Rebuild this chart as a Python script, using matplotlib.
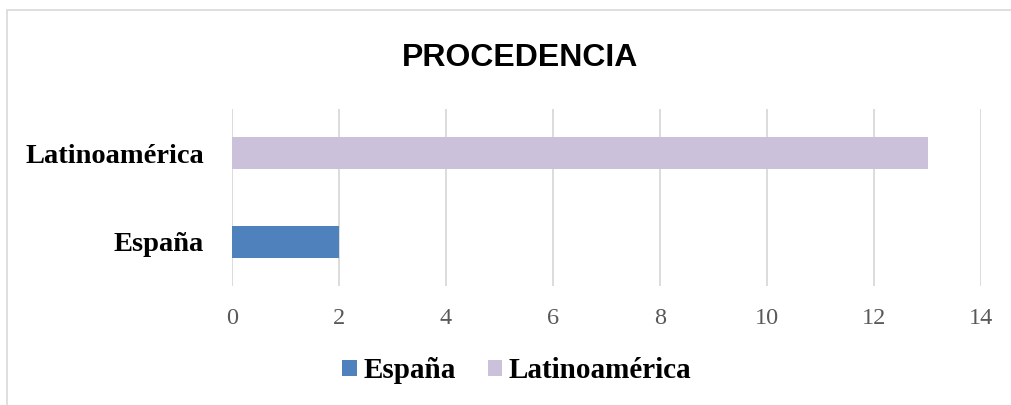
import matplotlib
matplotlib.use("Agg")
import matplotlib.pyplot as plt
from matplotlib.patches import Rectangle, Patch

categories = ["España", "Latinoamérica"]
values = [2, 13]
colors = ["#4F81BD", "#CCC1DA"]
xticks = [0, 2, 4, 6, 8, 10, 12, 14]

SERIF = ["Liberation Serif", "DejaVu Serif"]
SANS = ["Liberation Sans", "DejaVu Sans"]

fig = plt.figure(figsize=(10.11, 4.05), dpi=100)
ax = fig.add_axes([0.2295, 0.2938, 0.7409, 0.4371])

ax.barh(range(len(categories)), values, height=0.36, color=colors, zorder=3)

ax.set_xlim(0, 14)
ax.set_ylim(-0.5, 1.5)
ax.set_xticks(xticks)
ax.set_xticklabels([str(t) for t in xticks], family=SERIF, fontsize=17.5, color="#595959")
ax.set_yticks(range(len(categories)))
ax.set_yticklabels(categories, family=SERIF, fontsize=20.5, fontweight="bold", color="black")
ax.tick_params(axis="x", length=0, pad=16)
ax.tick_params(axis="y", length=0, pad=20)
ax.grid(axis="x", color="#D9D9D9", linewidth=1.3, zorder=0)
for s in ax.spines.values():
    s.set_visible(False)

fig.text(0.5145, 0.857, "PROCEDENCIA", ha="center", va="center",
         family=SANS, fontsize=23, fontweight="bold")

handles = [Patch(facecolor=c, edgecolor="none") for c in colors]
fig.legend(handles, categories, loc="center", bbox_to_anchor=(0.511, 0.084), ncol=2,
           frameon=False, prop={"family": SERIF, "size": 21, "weight": "bold"},
           handlelength=0.5, handleheight=0.5, handletextpad=0.22, columnspacing=1.1)

fig.patches.append(Rectangle((7 / 1011, -0.1), 1.2, 1 - 10 / 405 + 0.1, transform=fig.transFigure,
                             fill=False, edgecolor="#D9D9D9", linewidth=1.2))

fig.savefig("out.png", dpi=100)
